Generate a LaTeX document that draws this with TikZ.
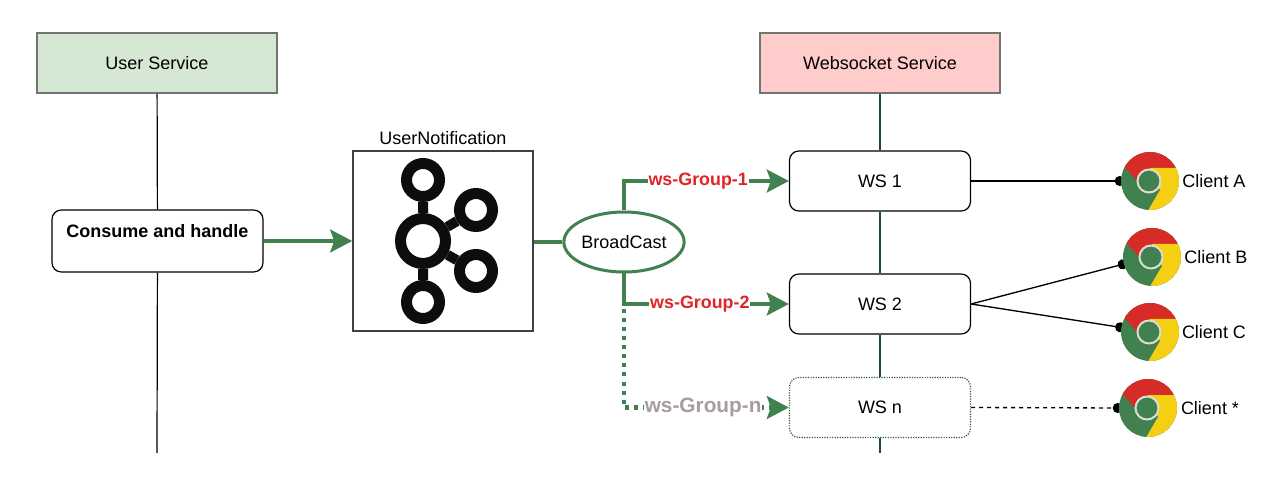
\documentclass[tikz,border=0pt]{standalone}
\usepackage{fontspec}
\setmainfont{Liberation Sans}
\usetikzlibrary{arrows.meta, positioning, backgrounds, shapes.geometric}
\definecolor{flowgreen}{HTML}{41804F}
\definecolor{lifegreen}{HTML}{1A4D2E}
\definecolor{chromered}{HTML}{D62B27}
\definecolor{chromeyellow}{HTML}{F5CF14}
\definecolor{ringgray}{HTML}{DADDD2}
\definecolor{labelred}{HTML}{E0242A}
\definecolor{labelgray}{HTML}{A89C9C}
\definecolor{userfill}{HTML}{D5E8D4}
\definecolor{wsfill}{HTML}{FFCCCC}
\tikzset{
  service/.style={draw=black!55, line width=0.9pt, minimum width=180pt, minimum height=45pt, inner sep=0pt},
  wsbox/.style={draw=black, line width=0.9pt, rounded corners=7pt, fill=white, minimum width=135.75pt, minimum height=45pt, inner sep=0pt},
  flow/.style={draw=flowgreen, line width=3.2pt, -{Stealth[length=16.5pt, width=17pt, inset=3pt]}},
  grouplabel/.style={fill=white, inner sep=0.6pt, font=\fontsize{13.4}{15}\selectfont\bfseries},
  kring/.style={circle, draw=black!95, line width=8.25pt, minimum size=24.75pt, inner sep=0pt},
  kspoke/.style={draw=black!95, line width=7.5pt},
  client/.style={draw=black, line width=1pt, shorten >=-3pt, -{Circle[length=7.5pt, width=7.5pt]}},
  chrome/.style={circle, minimum size=43.5pt, inner sep=0pt, fill=flowgreen, path picture={
    \begin{scope}[x=0.75pt, y=0.75pt, shift={(path picture bounding box.center)}]
      \fill[chromered] (-34,23) -- (-10,-3) -- (0,13) -- (40,13) -- (40,40) -- (-34,40) -- cycle;
      \fill[chromeyellow] (40,13) -- (0,13) -- (10,-9) -- (-4,-33) -- (40,-40) -- cycle;
      \filldraw[fill=flowgreen, draw=ringgray, line width=1.5pt] (-1,0) circle (11.5);
    \end{scope}}},
}
\begin{document}
\begin{tikzpicture}[x=0.75pt, y=-0.75pt, node distance=48pt, on grid, font=\fontsize{13.5}{15}\selectfont]
  \useasboundingbox (0,0) rectangle (1282,488);

  \node[service, fill=userfill] (userservice) at (157,63) {User Service};
  \node[service, fill=wsfill]   (websocket)   at (880,63) {Websocket Service};
  \coordinate (userend) at (157,453);
  \coordinate (wsend)   at (880,453);

  \node[wsbox, minimum width=158.25pt, minimum height=46.5pt, align=center, font=\fontsize{13.5}{15}\selectfont\bfseries] (consume) at (157.5,241) {Consume and handle\\~};

  \node[draw=black!75, line width=1.1pt, minimum size=135pt, inner sep=0pt] (kafka) at (443,241) {};
  \node[above=1pt of kafka.north, anchor=south] (kafkaname) {UserNotification};

  \node[kring, minimum size=33.75pt] (kmid) at (423,241) {};
  \node[kring] (ktop)    at (423,180) {};
  \node[kring] (kbottom) at (423,302) {};
  \node[kring] (kupper)  at (476,210) {};
  \node[kring] (klower)  at (476,271) {};
  \path[kspoke] (kmid) -- (ktop) (kmid) -- (kbottom) (kmid) -- (kupper) (kmid) -- (klower);

  \node[ellipse, draw=flowgreen, line width=2.25pt, minimum width=90pt, minimum height=45pt, inner sep=0pt] (broadcast) at (624,242) {BroadCast};

  \node[wsbox] (ws1) at (880,181) {WS 1};
  \node[wsbox] (ws2) at (880,304) {WS 2};
  \node[wsbox, draw=flowgreen!70!black, densely dotted] (wsn) at (880,407.5) {WS n};

  \node[chrome] (clienta) at (1150,181) {};
  \node[chrome] (clientb) at (1152,257) {};
  \node[chrome] (clientc) at (1150,332) {};
  \node[chrome] (clientn) at (1148,408) {};
  \node[right=of clienta] (namea) {Client A};
  \node[right=of clientb] (nameb) {Client B};
  \node[right=of clientc] (namec) {Client C};
  \node[right=46.5pt of clientn] (namen) {Client *};

  \begin{pgfonlayer}{background}
    \path[draw=black, line width=0.9pt] (userservice) -- (consume) (consume) -- (userend);
    \path[draw=lifegreen, line width=0.9pt] (websocket) -- (ws1) (ws1) -- (ws2) (ws2) -- (wsn) (wsn) -- (wsend);
    \draw[client] (ws1.east) -- (clienta.west);
    \draw[client] (ws2.east) -- (clientb.194);
    \draw[client] (ws2.east) -- (clientc.171);
    \draw[client, dashed] (wsn.east) -- (clientn.west);
  \end{pgfonlayer}

  \draw[flow] (consume) -- (kafka);
  \draw[draw=flowgreen, line width=3.2pt] (kafka.east |- broadcast) -- (broadcast);

  % groups behind the broadcast
  \draw[flow, dash pattern=on 3pt off 3.75pt] (broadcast.south) |- node[grouplabel, pos=.74, text=labelgray, font=\fontsize{15.6}{17}\selectfont\bfseries] (groupn) {ws-Group-n} (wsn.west);
  \draw[flow] (broadcast.south) |- node[grouplabel, pos=.73, text=labelred] (group2) {ws-Group-2} (ws2.west);
  \draw[flow] (broadcast.north) |- node[grouplabel, pos=.725, text=labelred] (group1) {ws-Group-1} (ws1.west);
\end{tikzpicture}
\end{document}
